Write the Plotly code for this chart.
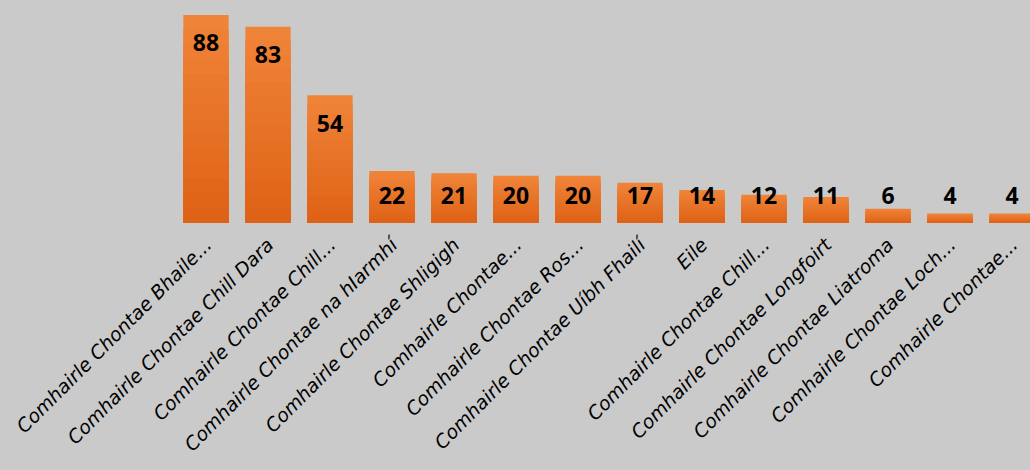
import plotly.graph_objects as go

labels = [
    "Comhairle Chontae Bhaile...",
    "Comhairle Chontae Chill Dara",
    "Comhairle Chontae Chill...",
    "Comhairle Chontae na hIarmhí",
    "Comhairle Chontae Shligigh",
    "Comhairle Chontae...",
    "Comhairle Chontae Ros...",
    "Comhairle Chontae Uíbh Fhailí",
    "Eile",
    "Comhairle Chontae Chill...",
    "Comhairle Chontae Longfoirt",
    "Comhairle Chontae Liatroma",
    "Comhairle Chontae Loch...",
    "Comhairle Chontae...",
]
values = [88, 83, 54, 22, 21, 20, 20, 17, 14, 12, 11, 6, 4, 4]

x = list(range(len(values)))

top_rgb = (239, 131, 56)
bot_rgb = (223, 99, 22)
steps = 14

fig = go.Figure()
for k in range(steps):
    frac = 1 - k / steps
    t = k / (steps - 1)
    c = tuple(round(top_rgb[i] + (bot_rgb[i] - top_rgb[i]) * t) for i in range(3))
    fig.add_trace(go.Bar(
        x=x, y=[v * frac for v in values],
        marker=dict(color=f"rgb{c}", line=dict(width=0)),
        hoverinfo="skip", showlegend=False,
    ))

label_y = [max(v - 13.0, 10.6) for v in values]
fig.add_trace(go.Scatter(
    x=x, y=label_y, mode="text", text=[str(v) for v in values],
    textfont=dict(family="Open Sans", size=23, color="#000000", weight="bold"),
    showlegend=False, hoverinfo="skip", cliponaxis=False,
))

fig.update_layout(
    width=1030, height=470,
    margin=dict(l=175, r=0, t=10, b=247),
    paper_bgcolor="#CACACA", plot_bgcolor="#CACACA",
    barmode="overlay", bargap=0.27,
    xaxis=dict(
        range=[-0.5, 13.29], tickvals=x, ticktext=labels, tickangle=-45,
        showgrid=False, zeroline=False, showline=False, ticks="",
        tickfont=dict(family="DejaVu Sans", size=19, color="#000000", style="italic"),
        ticklabelstandoff=6,
        fixedrange=True,
    ),
    yaxis=dict(range=[0, 90.1], visible=False, fixedrange=True),
)

fig.write_html("out.html")
